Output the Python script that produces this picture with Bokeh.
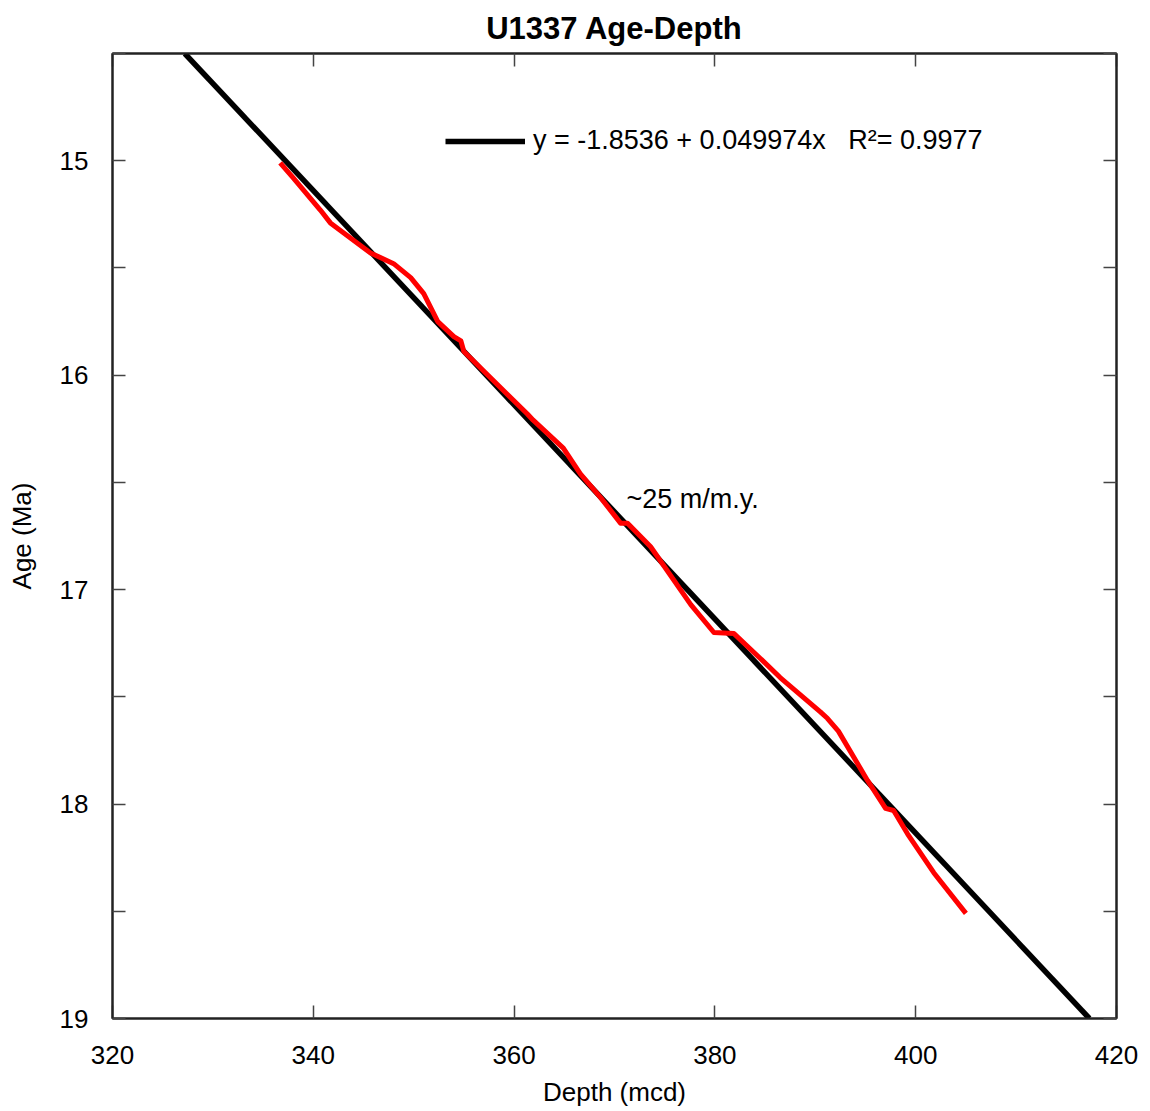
from bokeh.plotting import figure
from bokeh.models import (Range1d, LinearAxis, FixedTicker, Legend, LegendItem, Label)
from bokeh.embed import file_html
from bokeh.resources import INLINE

# ---- data ----
depth_red = [336.7, 338.0, 340.7, 341.7, 345.7, 348.0, 349.7, 351.0, 352.4, 354.0,
             354.7, 355.0, 361.3, 361.9, 364.9, 366.6, 368.6, 370.6, 371.3, 373.6,
             377.6, 379.9, 381.9, 384.5, 386.5, 390.5, 391.2, 392.3, 395.2, 397.0,
             397.8, 399.2, 401.8, 405.0]
age_red = [15.01, 15.08, 15.23, 15.29, 15.43, 15.48, 15.545, 15.62, 15.75, 15.82,
           15.84, 15.89, 16.18, 16.21, 16.34, 16.46, 16.57, 16.69, 16.69, 16.80,
           17.07, 17.20, 17.205, 17.32, 17.41, 17.57, 17.60, 17.66, 17.89, 18.02,
           18.03, 18.14, 18.32, 18.51]
fit_depth = [327.2, 417.3]
fit_age = [14.50, 19.00]
x_ticks = [320, 340, 360, 380, 400, 420]
y_ticks = [15, 16, 17, 18, 19]
y_minor = [14.5, 15.5, 16.5, 17.5, 18.5]
title_text = "U1337 Age-Depth"
legend_text = "y = -1.8536 + 0.049974x   R\u00b2= 0.9977"
rate_text = "~25 m/m.y."
rate_pos = (371.2, 16.576)

FONT = "Liberation Sans"
FS = "26px"
FS2 = "27px"

p = figure(width=1150, height=1111, output_backend="svg", toolbar_location=None,
           x_range=Range1d(320, 420), y_range=Range1d(19, 14.5),
           x_axis_location=None, y_axis_location=None,
           min_border_left=112, min_border_right=34, min_border_top=53,
           min_border_bottom=93, background_fill_color="white",
           border_fill_color="white")
p.grid.visible = False
p.outline_line_color = "#222222"
p.outline_line_width = 2

p.title.text = title_text
p.title.align = "center"
p.title.text_font = FONT
p.title.text_font_size = "31px"
p.title.text_font_style = "bold"
p.title.text_color = "black"
p.title.standoff = 16


def style_axis(ax):
    ax.axis_line_color = "#222222"
    ax.axis_line_width = 2
    ax.major_tick_in = 13
    ax.major_tick_out = 0
    ax.minor_tick_in = 13
    ax.minor_tick_out = 0
    ax.major_tick_line_color = "#444444"
    ax.major_tick_line_width = 1.5
    ax.minor_tick_line_color = "#444444"
    ax.minor_tick_line_width = 1.5
    ax.major_label_text_font = FONT
    ax.major_label_text_font_size = FS
    ax.major_label_text_color = "black"
    ax.axis_label_text_font = FONT
    ax.axis_label_text_font_size = FS
    ax.axis_label_text_font_style = "normal"
    ax.axis_label_text_color = "black"


xb = LinearAxis(ticker=FixedTicker(ticks=x_ticks), axis_label="Depth (mcd)")
style_axis(xb)
xb.major_label_standoff = 27
xb.axis_label_standoff = 10
p.add_layout(xb, "below")

# top axis: ticks only (drawn as minor ticks, no labels)
xt = LinearAxis(ticker=FixedTicker(ticks=[], minor_ticks=x_ticks))
style_axis(xt)
xt.major_label_standoff = 0
p.add_layout(xt, "above")

yl = LinearAxis(ticker=FixedTicker(ticks=y_ticks, minor_ticks=y_minor),
                axis_label="Age (Ma)")
style_axis(yl)
yl.major_label_standoff = 24
yl.axis_label_standoff = 20
p.add_layout(yl, "left")

yr = LinearAxis(ticker=FixedTicker(ticks=[], minor_ticks=y_ticks + y_minor))
style_axis(yr)
yr.major_label_standoff = 0
p.add_layout(yr, "right")

fit = p.line(fit_depth, fit_age, line_color="black", line_width=5.5)
p.line(depth_red, age_red, line_color="#ff0000", line_width=5, line_join="round")

legend = Legend(items=[LegendItem(label=legend_text, renderers=[fit])],
                location=(333, 862), padding=0, margin=0, spacing=0,
                glyph_width=80, glyph_height=20, label_standoff=8,
                label_text_font=FONT, label_text_font_size=FS2,
                label_text_color="black", border_line_color=None,
                background_fill_alpha=0)
p.add_layout(legend, "center")

p.add_layout(Label(x=rate_pos[0], y=rate_pos[1], text=rate_text,
                   text_font=FONT, text_font_size=FS2, text_baseline="middle",
                   text_color="black"))

open("out.html", "w").write(file_html(p, INLINE))
